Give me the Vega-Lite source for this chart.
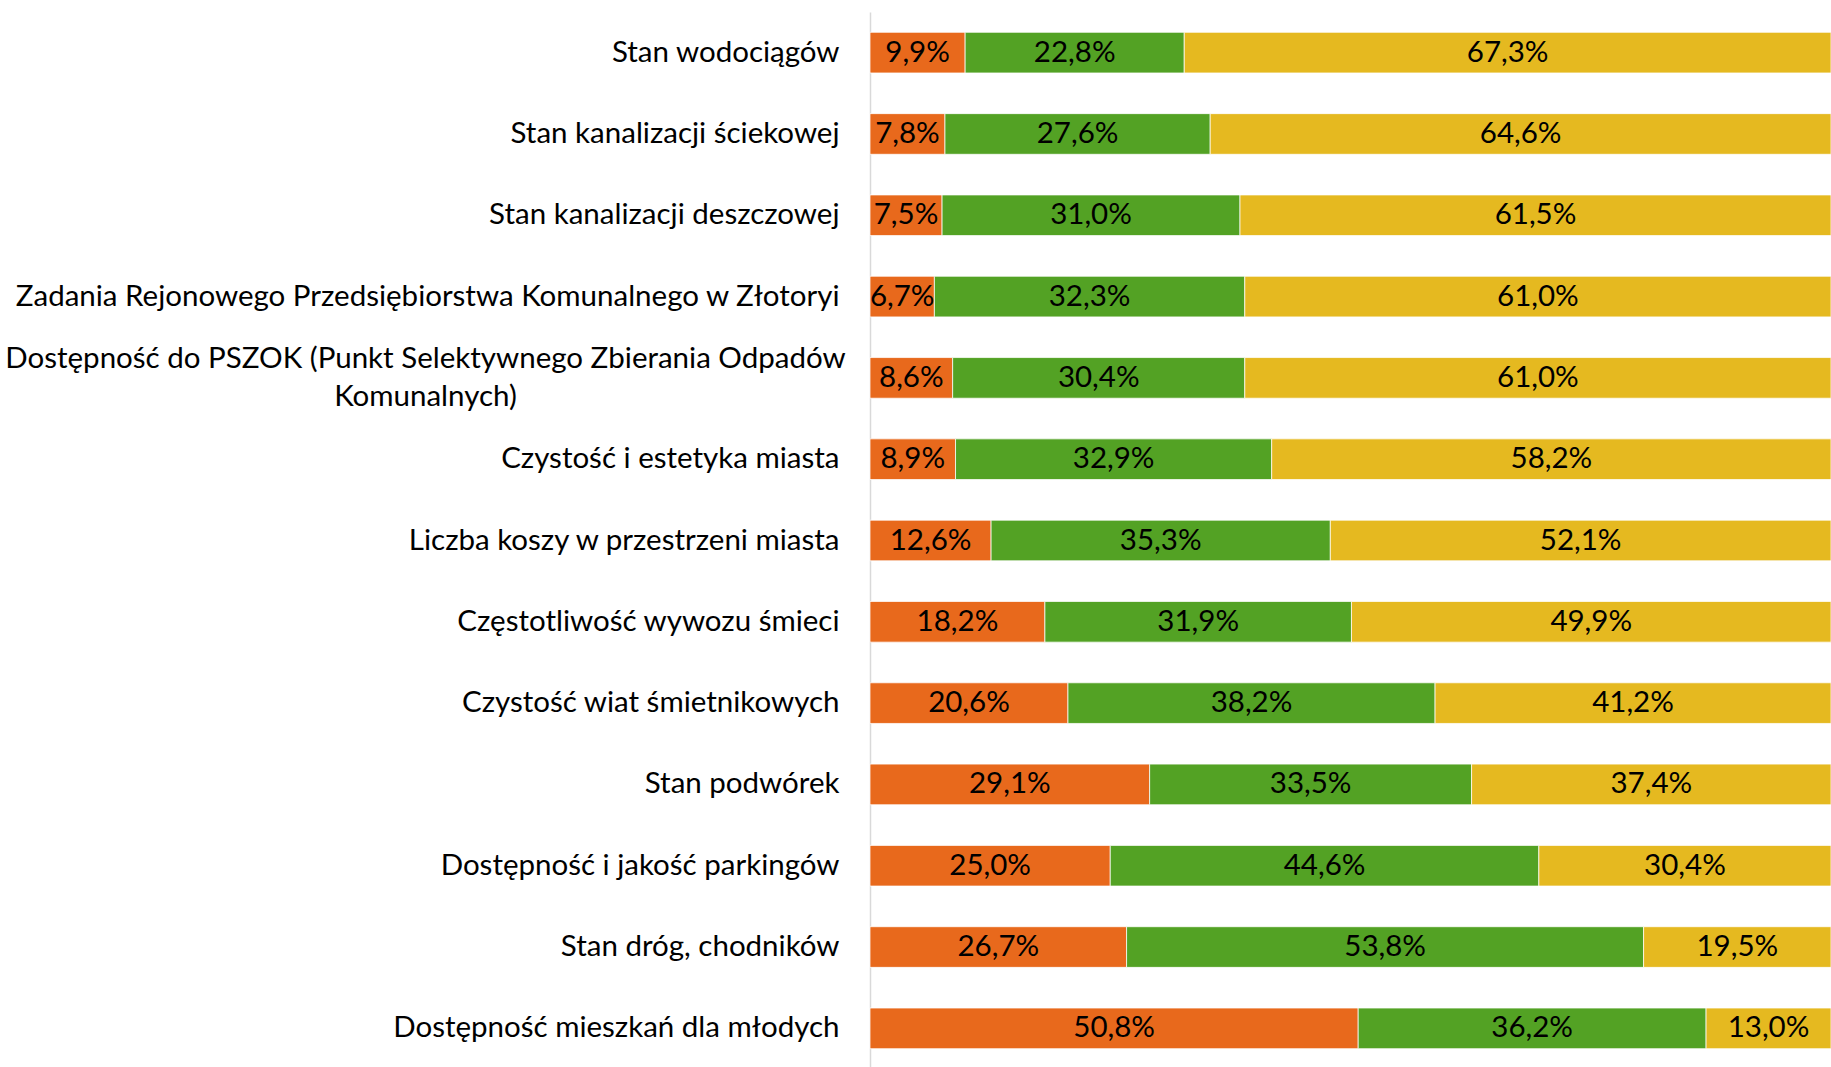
{
  "$schema": "https://vega.github.io/schema/vega-lite/v6.json",
  "width": 961,
  "height": 1057,
  "autosize": {"type": "none"},
  "padding": {"left": 870, "top": 12, "right": 0, "bottom": 0},
  "background": "white",
  "config": {
    "view": {"stroke": null},
    "locale": {"number": {"decimal": ",", "thousands": " ", "grouping": [3], "currency": ["", " zł"]}}
  },
  "data": {
    "values": [
      {"obszar": "Stan wodociągów", "ocena": "negatywna", "kolejnosc": 1, "wartosc": 0.099},
      {"obszar": "Stan wodociągów", "ocena": "neutralna", "kolejnosc": 2, "wartosc": 0.228},
      {"obszar": "Stan wodociągów", "ocena": "pozytywna", "kolejnosc": 3, "wartosc": 0.673},
      {"obszar": "Stan kanalizacji ściekowej", "ocena": "negatywna", "kolejnosc": 1, "wartosc": 0.078},
      {"obszar": "Stan kanalizacji ściekowej", "ocena": "neutralna", "kolejnosc": 2, "wartosc": 0.276},
      {"obszar": "Stan kanalizacji ściekowej", "ocena": "pozytywna", "kolejnosc": 3, "wartosc": 0.646},
      {"obszar": "Stan kanalizacji deszczowej", "ocena": "negatywna", "kolejnosc": 1, "wartosc": 0.075},
      {"obszar": "Stan kanalizacji deszczowej", "ocena": "neutralna", "kolejnosc": 2, "wartosc": 0.310},
      {"obszar": "Stan kanalizacji deszczowej", "ocena": "pozytywna", "kolejnosc": 3, "wartosc": 0.615},
      {"obszar": "Zadania Rejonowego Przedsiębiorstwa Komunalnego w Złotoryi", "ocena": "negatywna", "kolejnosc": 1, "wartosc": 0.067},
      {"obszar": "Zadania Rejonowego Przedsiębiorstwa Komunalnego w Złotoryi", "ocena": "neutralna", "kolejnosc": 2, "wartosc": 0.323},
      {"obszar": "Zadania Rejonowego Przedsiębiorstwa Komunalnego w Złotoryi", "ocena": "pozytywna", "kolejnosc": 3, "wartosc": 0.610},
      {"obszar": "Dostępność do PSZOK (Punkt Selektywnego Zbierania Odpadów Komunalnych)", "ocena": "negatywna", "kolejnosc": 1, "wartosc": 0.086},
      {"obszar": "Dostępność do PSZOK (Punkt Selektywnego Zbierania Odpadów Komunalnych)", "ocena": "neutralna", "kolejnosc": 2, "wartosc": 0.304},
      {"obszar": "Dostępność do PSZOK (Punkt Selektywnego Zbierania Odpadów Komunalnych)", "ocena": "pozytywna", "kolejnosc": 3, "wartosc": 0.610},
      {"obszar": "Czystość i estetyka miasta", "ocena": "negatywna", "kolejnosc": 1, "wartosc": 0.089},
      {"obszar": "Czystość i estetyka miasta", "ocena": "neutralna", "kolejnosc": 2, "wartosc": 0.329},
      {"obszar": "Czystość i estetyka miasta", "ocena": "pozytywna", "kolejnosc": 3, "wartosc": 0.582},
      {"obszar": "Liczba koszy w przestrzeni miasta", "ocena": "negatywna", "kolejnosc": 1, "wartosc": 0.126},
      {"obszar": "Liczba koszy w przestrzeni miasta", "ocena": "neutralna", "kolejnosc": 2, "wartosc": 0.353},
      {"obszar": "Liczba koszy w przestrzeni miasta", "ocena": "pozytywna", "kolejnosc": 3, "wartosc": 0.521},
      {"obszar": "Częstotliwość wywozu śmieci", "ocena": "negatywna", "kolejnosc": 1, "wartosc": 0.182},
      {"obszar": "Częstotliwość wywozu śmieci", "ocena": "neutralna", "kolejnosc": 2, "wartosc": 0.319},
      {"obszar": "Częstotliwość wywozu śmieci", "ocena": "pozytywna", "kolejnosc": 3, "wartosc": 0.499},
      {"obszar": "Czystość wiat śmietnikowych", "ocena": "negatywna", "kolejnosc": 1, "wartosc": 0.206},
      {"obszar": "Czystość wiat śmietnikowych", "ocena": "neutralna", "kolejnosc": 2, "wartosc": 0.382},
      {"obszar": "Czystość wiat śmietnikowych", "ocena": "pozytywna", "kolejnosc": 3, "wartosc": 0.412},
      {"obszar": "Stan podwórek\u00a0", "ocena": "negatywna", "kolejnosc": 1, "wartosc": 0.291},
      {"obszar": "Stan podwórek\u00a0", "ocena": "neutralna", "kolejnosc": 2, "wartosc": 0.335},
      {"obszar": "Stan podwórek\u00a0", "ocena": "pozytywna", "kolejnosc": 3, "wartosc": 0.374},
      {"obszar": "Dostępność i jakość parkingów", "ocena": "negatywna", "kolejnosc": 1, "wartosc": 0.250},
      {"obszar": "Dostępność i jakość parkingów", "ocena": "neutralna", "kolejnosc": 2, "wartosc": 0.446},
      {"obszar": "Dostępność i jakość parkingów", "ocena": "pozytywna", "kolejnosc": 3, "wartosc": 0.304},
      {"obszar": "Stan dróg, chodników", "ocena": "negatywna", "kolejnosc": 1, "wartosc": 0.267},
      {"obszar": "Stan dróg, chodników", "ocena": "neutralna", "kolejnosc": 2, "wartosc": 0.538},
      {"obszar": "Stan dróg, chodników", "ocena": "pozytywna", "kolejnosc": 3, "wartosc": 0.195},
      {"obszar": "Dostępność mieszkań dla młodych", "ocena": "negatywna", "kolejnosc": 1, "wartosc": 0.508},
      {"obszar": "Dostępność mieszkań dla młodych", "ocena": "neutralna", "kolejnosc": 2, "wartosc": 0.362},
      {"obszar": "Dostępność mieszkań dla młodych", "ocena": "pozytywna", "kolejnosc": 3, "wartosc": 0.130}
    ]
  },
  "transform": [
    {"stack": "wartosc", "groupby": ["obszar"], "sort": [{"field": "kolejnosc", "order": "ascending"}], "as": ["x0", "x1"]},
    {"calculate": "(datum.x0 + datum.x1) / 2", "as": "xm"}
  ],
  "encoding": {
    "y": {
      "field": "obszar",
      "type": "nominal",
      "sort": null,
      "scale": {"paddingInner": 0.5, "paddingOuter": 0.25},
      "axis": {
        "title": null,
        "ticks": false,
        "grid": false,
        "domainColor": "#d9d9d9",
        "domainWidth": 1.5,
        "labelFont": "Lato",
        "labelFontSize": 29.5,
        "labelColor": "#000000",
        "labelLimit": 0,
        "labelOverlap": false,
        "labelBound": false,
        "labelLineHeight": 38.5,
        "labelBaseline": "middle",
        "labelExpr": "indexof(datum.value, 'PSZOK') >= 0 ? ['Dostępność do PSZOK (Punkt Selektywnego Zbierania Odpadów', 'Komunalnych)'] : datum.label",
        "labelAlign": {"condition": {"test": "indexof(datum.value, 'PSZOK') >= 0", "value": "center"}, "value": "right"},
        "labelPadding": {"condition": {"test": "indexof(datum.value, 'PSZOK') >= 0", "value": 445}, "value": 31},
        "labelOffset": {"condition": {"test": "indexof(datum.value, 'PSZOK') >= 0", "value": -19}, "value": 0}
      }
    }
  },
  "layer": [
    {
      "mark": {"type": "bar", "stroke": "#ffffff", "strokeWidth": 0.75},
      "encoding": {
        "x": {"field": "x0", "type": "quantitative", "scale": {"domain": [0, 1], "nice": false, "zero": true}, "axis": null},
        "x2": {"field": "x1"},
        "color": {
          "field": "ocena",
          "type": "nominal",
          "scale": {"domain": ["negatywna", "neutralna", "pozytywna"], "range": ["#E8691C", "#53A224", "#E5B920"]},
          "legend": null
        }
      }
    },
    {
      "mark": {"type": "text", "font": "Lato", "fontSize": 29.5, "color": "#000000", "baseline": "middle", "align": "center"},
      "encoding": {
        "x": {"field": "xm", "type": "quantitative"},
        "text": {"field": "wartosc", "type": "quantitative", "format": ".1%"}
      }
    }
  ]
}
